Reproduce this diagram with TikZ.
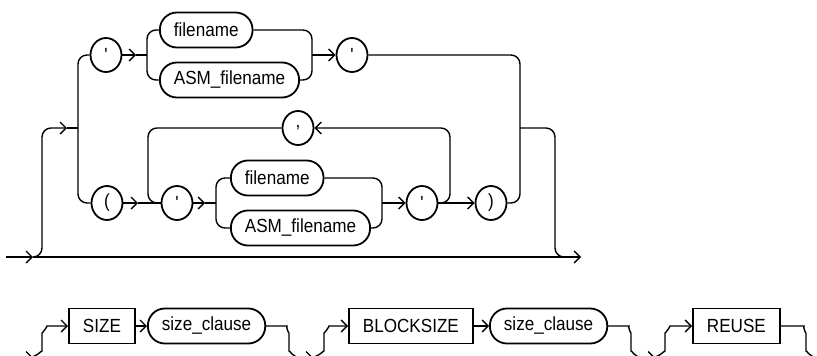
\documentclass[tikz,border=0pt]{standalone}
\usepackage{fontspec}
\setmainfont{Liberation Sans}
\newfontfamily\railfont[FakeStretch=0.9]{Liberation Sans}
\usetikzlibrary{arrows.meta,shapes.geometric}

\begin{document}
\begin{tikzpicture}[x=1pt,y=-1pt,
	>={Straight Barb[length=6pt,width=12pt]},
	rail/.style={line width=1.4pt,rounded corners=9pt},
	term/.style={draw,ellipse,line width=1.8pt,inner sep=0pt,minimum width=31pt,minimum height=34pt,font=\railfont\fontsize{19}{21}\selectfont},
	nterm/.style={draw,rounded corners=17pt,line width=1.8pt,inner xsep=14pt,inner ysep=0pt,minimum height=35pt,font=\railfont\fontsize{19}{21}\selectfont},
	kword/.style={draw,line width=1.8pt,inner xsep=14pt,inner ysep=0pt,minimum height=35pt,font=\railfont\fontsize{19}{21}\selectfont}]
	\useasboundingbox (0,0) rectangle (817,356);
	\clip (0,0) rectangle (817,356);

	% upper diagram
	\node[term] (q1) at (106,55) {'};
	\node[nterm,anchor=west] (f1) at (159,30) {filename};
	\node[nterm,anchor=west] (asm1) at (159,80) {ASM\_filename};
	\node[term] (q2) at (352,55) {'};

	\node[term] (cm) at (298,128) {,};
	\node[term] (lp) at (107,203) {(};
	\node[term] (q3) at (177,203) {'};
	\node[nterm,anchor=west] (f2) at (230,178) {filename};
	\node[nterm,anchor=west] (asm2) at (230,228) {ASM\_filename};
	\node[term] (q4) at (422,203) {'};
	\node[term] (rp) at (491,203) {)};

	\coordinate (in) at (6,257);
	\coordinate (a0) at (33,257);
	\coordinate (out) at (581,257);
	\coordinate (mR) at (568,257);
	\coordinate (aL) at (67,128);
	\coordinate (jL) at (78,128);
	\coordinate (jR) at (520,128);
	\coordinate (a1) at (136,55);
	\coordinate (j1) at (147,55);
	\coordinate (k1) at (312,55);
	\coordinate (a2) at (138,203);
	\coordinate (a3) at (205,203);
	\coordinate (j2) at (216,203);
	\coordinate (k2) at (382,203);

	\draw[rail,->] (in) -- (a0);
	\draw[rail,->] (a0) -- (out);
	\draw[rail,->] (a0) -- (42,257) |- (aL);
	\draw[rail] (aL) -- (jL);
	\draw[rail] (jL) |- (q1.west);
	\draw[rail] (jL) |- (lp.west);

	\draw[rail,->] (q1.east) -- (a1);
	\draw[rail] (a1) -- (j1);
	\draw[rail] (j1) |- (f1.west);
	\draw[rail] (j1) |- (asm1.west);
	\draw[rail] (f1.east) -| (k1);
	\draw[rail] (asm1.east) -| (k1);
	\draw[rail,->] (k1) -- (q2.west);

	\draw[rail,->] (lp.east) -- (a2);
	\draw[rail] (a2) -- (q3.west);
	\draw[rail,->] (q3.east) -- (a3);
	\draw[rail] (a3) -- (j2);
	\draw[rail] (j2) |- (f2.west);
	\draw[rail] (j2) |- (asm2.west);
	\draw[rail] (f2.east) -| (k2);
	\draw[rail] (asm2.east) -| (k2);
	\draw[rail,->] (k2) -- (q4.west);
	\draw[rail,->] (q4.east) -- (rp.west);
	\draw[rail,->] (q4.east) -| (450,128) -- (cm.east);
	\draw[rail] (cm.west) -- (148,128) |- (q3.west);

	\draw[rail] (q2.east) -| (jR);
	\draw[rail] (rp.east) -| (jR);
	\draw[rail] (jR) -- (555,128) |- (mR);

	% lower diagram
	\node[kword,anchor=west] (size) at (68,326) {SIZE};
	\node[nterm,anchor=west] (sc1) at (147,326) {size\_clause};
	\node[kword,anchor=west] (blk) at (348,326) {BLOCKSIZE};
	\node[nterm,anchor=west] (sc2) at (489,326) {size\_clause};
	\node[kword,anchor=west] (reuse) at (692,326) {REUSE};

	\coordinate (bin) at (0,357.5);
	\coordinate (bout) at (817,357.5);
	\draw[rail] (bin) -- (bout);
	\draw[rail,->] (bin) -- (33,357.5);
	\draw[rail,->] (bin) -- (313,357.5);
	\draw[rail,->] (bin) -- (655,357.5);

	\draw[rail,->] (28,357.5) to[out=0,in=-90] (42,342) to[out=90,in=180] (56,326) -- (size.west);
	\draw[rail,->] (size.east) -- (sc1.west);
	\draw[rail] (sc1.east) -- (278,326) to[out=0,in=90] (289,342) to[out=-90,in=180] (300,357.5);
	\draw[rail,->] (310,357.5) to[out=0,in=-90] (324,342) to[out=90,in=180] (338,326) -- (blk.west);
	\draw[rail,->] (blk.east) -- (sc2.west);
	\draw[rail] (sc2.east) -- (620,326) to[out=0,in=90] (631,342) to[out=-90,in=180] (642,357.5);
	\draw[rail,->] (651,357.5) to[out=0,in=-90] (665,342) to[out=90,in=180] (679,326) -- (reuse.west);
	\draw[rail] (reuse.east) -- (795,326) to[out=0,in=90] (806,342) to[out=-90,in=180] (817,357.5);
\end{tikzpicture}
\end{document}
